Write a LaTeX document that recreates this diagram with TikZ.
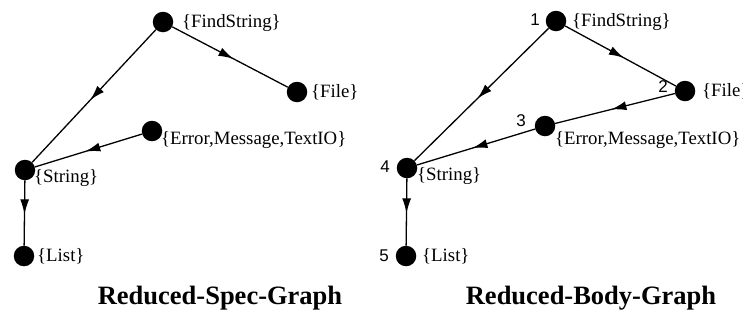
\documentclass[tikz,border=0pt]{standalone}
\usepackage{fontspec}
\setmainfont{Liberation Serif}
\newfontfamily\numfont{Liberation Sans}
\usetikzlibrary{arrows.meta,decorations.markings}

\begin{document}
\begin{tikzpicture}[x=1pt,y=-1pt,
  vertex/.style={circle,fill=black,inner sep=0pt,minimum size=20.5pt},
  lbl/.style={anchor=west,inner sep=0pt,font=\fontsize{18.8}{20}\selectfont},
  num/.style={inner sep=0pt,font=\numfont\fontsize{17}{19}\selectfont},
  graphtitle/.style={inner sep=0pt,font=\bfseries\fontsize{26.5}{30}\selectfont},
  edge/.style={line width=1.3pt,postaction={decorate},
    decoration={markings,mark=at position #1 with {\arrow{Latex[length=15pt,width=9pt]}}}},
  edge/.default=0.53
]
\useasboundingbox (0,0) rectangle (743,322);

% ---------- Reduced-Spec-Graph ----------
\node[vertex] (sF) at (163,22) {};
\node[vertex] (sFi) at (297,92) {};
\node[vertex] (sE) at (152,131) {};
\node[vertex] (sS) at (25,170) {};
\node[vertex] (sL) at (24,256) {};

\node[lbl] (lsF) at (182,23) {\{FindString\}};
\node[lbl] (lsFi) at (311,92) {\{File\}};
\node[lbl] (lsE) at (161,140) {\{Error,Message,TextIO\}};
\node[lbl] (lsS) at (34,178) {\{String\}};
\node[lbl] (lsL) at (37,256) {\{List\}};

\draw[edge] (sF) -- (sS);
\draw[edge] (sF) -- (sFi);
\draw[edge] (sE) -- (sS);
\draw[edge=0.52] (sS) -- (sL);

\node[graphtitle] (capS) at (220,298) {Reduced-Spec-Graph};

% ---------- Reduced-Body-Graph ----------
\node[vertex] (bF) at (556,21) {};
\node[vertex] (bFi) at (685,91) {};
\node[vertex] (bE) at (545,126) {};
\node[vertex] (bS) at (407,168) {};
\node[vertex] (bL) at (406,256) {};

\node[num] (n1) at (535,20) {1};
\node[num] (n2) at (663,87) {2};
\node[num] (n3) at (521,121) {3};
\node[num] (n4) at (385,167) {4};
\node[num] (n5) at (384,256) {5};

\node[lbl] (lbF) at (572,22) {\{FindString\}};
\node[lbl] (lbFi) at (702,91) {\{File\}};
\node[lbl] (lbE) at (555,140) {\{Error,Message,TextIO\}};
\node[lbl] (lbS) at (417,176) {\{String\}};
\node[lbl] (lbL) at (422,256) {\{List\}};

\draw[edge] (bF) -- (bS);
\draw[edge] (bF) -- (bFi);
\draw[edge] (bFi) -- (bE);
\draw[edge] (bE) -- (bS);
\draw[edge=0.52] (bS) -- (bL);

\node[graphtitle] (capB) at (591,298) {Reduced-Body-Graph};
\end{tikzpicture}
\end{document}
